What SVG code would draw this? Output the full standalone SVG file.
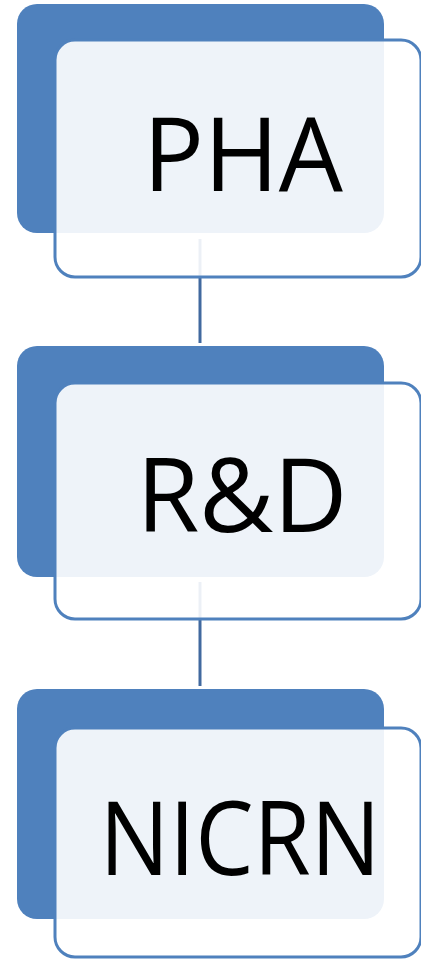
<svg xmlns="http://www.w3.org/2000/svg" width="421" height="962" viewBox="0 0 421 962">
<style>
.back{fill:#4f81bd}
.front{fill:#ffffff;fill-opacity:0.9;stroke:#4f81bd;stroke-width:3}
.lbl{font-family:"Open Sans","Liberation Sans",sans-serif;font-size:103px;fill:#000000;text-anchor:middle}
.conn{stroke:#41699f;stroke-width:3;fill:none}
</style>
<rect width="421" height="962" fill="#ffffff"/>
<g id="connectors">
<line class="conn" x1="200" y1="239" x2="200" y2="343"/>
<line class="conn" x1="200" y1="582" x2="200" y2="686"/>
</g>
<g id="node-pha">
<rect class="back" x="17" y="4" width="367" height="229" rx="20"/>
<rect class="front" x="55" y="40" width="366" height="237" rx="20"/>
<text class="lbl" x="243" y="191" textLength="200" lengthAdjust="spacingAndGlyphs">PHA</text>
</g>
<g id="node-rd">
<rect class="back" x="17" y="346" width="367" height="231" rx="20"/>
<rect class="front" x="55" y="383" width="366" height="236" rx="20"/>
<text class="lbl" x="242" y="532" textLength="211" lengthAdjust="spacingAndGlyphs">R&amp;D</text>
</g>
<g id="node-nicrn">
<rect class="back" x="17" y="689" width="367" height="230" rx="20"/>
<rect class="front" x="55" y="728" width="366" height="229" rx="20"/>
<text class="lbl" x="240" y="875" textLength="281" lengthAdjust="spacingAndGlyphs">NICRN</text>
</g>
</svg>
